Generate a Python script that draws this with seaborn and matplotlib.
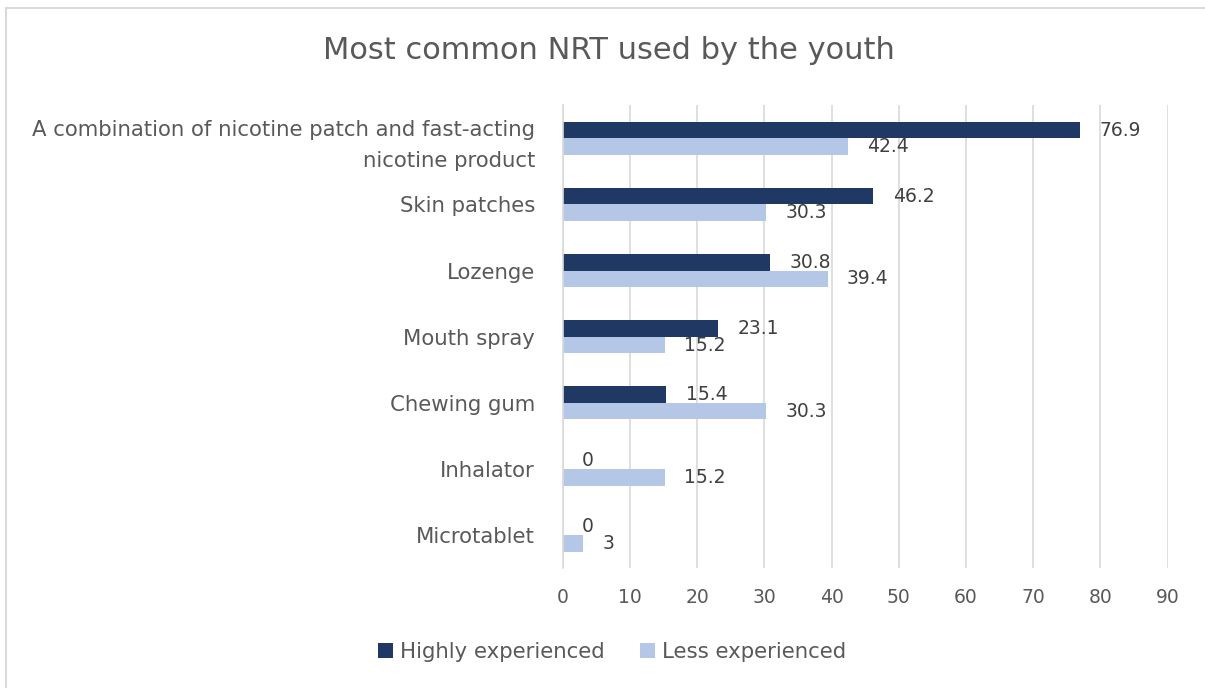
import matplotlib
matplotlib.use("Agg")
import matplotlib.pyplot as plt
import seaborn as sns
import pandas as pd
from matplotlib.lines import Line2D

categories = [
    "A combination of nicotine patch and fast-acting\nnicotine product",
    "Skin patches",
    "Lozenge",
    "Mouth spray",
    "Chewing gum",
    "Inhalator",
    "Microtablet",
]
highly = [76.9, 46.2, 30.8, 23.1, 15.4, 0, 0]
less = [42.4, 30.3, 39.4, 15.2, 30.3, 15.2, 3]
series = ["Highly experienced", "Less experienced"]
colors = ["#203864", "#B4C7E7"]
xticks = [0, 10, 20, 30, 40, 50, 60, 70, 80, 90]

df = pd.DataFrame({
    "category": categories * 2,
    "value": highly + less,
    "series": [series[0]] * len(categories) + [series[1]] * len(categories),
})

sns.set_style("white")
plt.rcParams["font.family"] = ["DejaVu Sans"]
text_color = "#595959"

fig = plt.figure(figsize=(12.05, 6.88), dpi=100)
ax = fig.add_axes([0.467, 0.174, 0.502, 0.673])

sns.barplot(data=df, y="category", x="value", hue="series", order=categories,
            hue_order=series, palette=colors, width=0.5, orient="h", ax=ax,
            saturation=1, errorbar=None, linewidth=0)

ax.set_xlim(0, 90)
ax.set_xticks(xticks)
ax.set_xticklabels([str(t) for t in xticks], fontsize=13.5, color=text_color)
ax.tick_params(axis="y", labelsize=15.3, colors=text_color, length=0, pad=20)
ax.tick_params(axis="x", length=0, pad=14)
for lab in ax.get_yticklabels():
    lab.set_horizontalalignment("right")
    lab.set_linespacing(1.65)
ax.set_xlabel("")
ax.set_ylabel("")
ax.grid(axis="x", color="#d9d9d9", linewidth=1.2)
ax.set_axisbelow(True)
for s in ["top", "right", "bottom"]:
    ax.spines[s].set_visible(False)
ax.spines["left"].set_color("#d9d9d9")
ax.spines["left"].set_linewidth(1.2)

for cont in ax.containers:
    ax.bar_label(cont, labels=[f"{v:g}" for v in cont.datavalues], padding=14,
                 fontsize=13.5, color="#404040")

leg = ax.legend(loc="lower center", bbox_to_anchor=(0.508, 0.01),
                bbox_transform=fig.transFigure, frameon=False,
                ncol=2, fontsize=15.3, handlelength=0.7, handleheight=0.7,
                handletextpad=0.3, columnspacing=1.7)
for t in leg.get_texts():
    t.set_color(text_color)

fig.text(0.505, 0.927, "Most common NRT used by the youth", ha="center", va="center",
         fontsize=22, color=text_color)

fig.add_artist(Line2D([6 / 1205, 6 / 1205], [0, 1 - 8 / 688], transform=fig.transFigure,
                      color="#d9d9d9", linewidth=1.5))
fig.add_artist(Line2D([6 / 1205, 1], [1 - 8 / 688, 1 - 8 / 688], transform=fig.transFigure,
                      color="#d9d9d9", linewidth=1.5))

fig.savefig("out.png", dpi=100)
